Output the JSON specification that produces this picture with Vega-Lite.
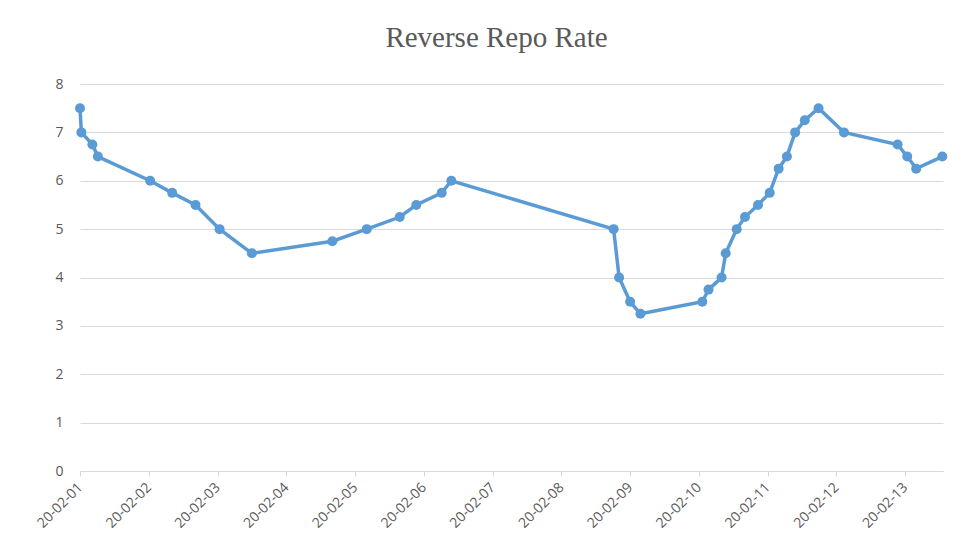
{
  "$schema": "https://vega.github.io/schema/vega-lite/v6.json",
  "autosize": "none",
  "width": 863,
  "height": 387,
  "padding": {"left": 80, "top": 84, "right": 27, "bottom": 84},
  "background": "white",
  "title": {
    "text": "Reverse Repo Rate",
    "font": "Liberation Serif",
    "fontSize": 29,
    "fontWeight": "normal",
    "color": "#595959",
    "anchor": "middle",
    "dx": -15,
    "offset": 24
  },
  "config": {"view": {"stroke": null}},
  "data": {
    "values": [
      {"t": 1.00, "rate": 7.5},
      {"t": 1.02, "rate": 7.0},
      {"t": 1.18, "rate": 6.75},
      {"t": 1.26, "rate": 6.5},
      {"t": 2.02, "rate": 6.0},
      {"t": 2.34, "rate": 5.75},
      {"t": 2.68, "rate": 5.5},
      {"t": 3.03, "rate": 5.0},
      {"t": 3.50, "rate": 4.5},
      {"t": 4.67, "rate": 4.75},
      {"t": 5.17, "rate": 5.0},
      {"t": 5.65, "rate": 5.25},
      {"t": 5.89, "rate": 5.5},
      {"t": 6.26, "rate": 5.75},
      {"t": 6.40, "rate": 6.0},
      {"t": 8.76, "rate": 5.0},
      {"t": 8.84, "rate": 4.0},
      {"t": 9.00, "rate": 3.5},
      {"t": 9.15, "rate": 3.25},
      {"t": 10.05, "rate": 3.5},
      {"t": 10.14, "rate": 3.75},
      {"t": 10.33, "rate": 4.0},
      {"t": 10.39, "rate": 4.5},
      {"t": 10.55, "rate": 5.0},
      {"t": 10.67, "rate": 5.25},
      {"t": 10.86, "rate": 5.5},
      {"t": 11.03, "rate": 5.75},
      {"t": 11.16, "rate": 6.25},
      {"t": 11.28, "rate": 6.5},
      {"t": 11.40, "rate": 7.0},
      {"t": 11.54, "rate": 7.25},
      {"t": 11.74, "rate": 7.5},
      {"t": 12.11, "rate": 7.0},
      {"t": 12.89, "rate": 6.75},
      {"t": 13.03, "rate": 6.5},
      {"t": 13.16, "rate": 6.25},
      {"t": 13.54, "rate": 6.5}
    ]
  },
  "encoding": {
    "x": {
      "field": "t",
      "type": "quantitative",
      "scale": {"domain": [1, 13.55], "nice": false, "zero": false},
      "axis": {
        "title": null,
        "values": [1, 2, 3, 4, 5, 6, 7, 8, 9, 10, 11, 12, 13],
        "labelExpr": "'20-02-' + (datum.value < 10 ? '0' : '') + datum.value",
        "labelAngle": -45,
        "labelAlign": "right",
        "labelBaseline": "middle",
        "labelFont": "Open Sans",
        "labelFontSize": 14,
        "labelColor": "#595959",
        "labelPadding": 9,
        "grid": false,
        "domainColor": "#D9D9D9",
        "domainWidth": 1,
        "tickColor": "#D9D9D9",
        "tickSize": 5,
        "labelFlush": false,
        "labelOverlap": false
      }
    },
    "y": {
      "field": "rate",
      "type": "quantitative",
      "scale": {"domain": [0, 8], "nice": false},
      "axis": {
        "title": null,
        "values": [0, 1, 2, 3, 4, 5, 6, 7, 8],
        "labelFont": "Open Sans",
        "labelFontSize": 14,
        "labelColor": "#595959",
        "labelPadding": 17,
        "domain": false,
        "ticks": false,
        "gridColor": "#D9D9D9",
        "gridWidth": 1
      }
    }
  },
  "layer": [
    {
      "mark": {"type": "line", "color": "#5B9BD5", "strokeWidth": 3.5}
    },
    {
      "mark": {"type": "point", "filled": true, "color": "#5B9BD5", "opacity": 1, "size": 100}
    }
  ]
}
